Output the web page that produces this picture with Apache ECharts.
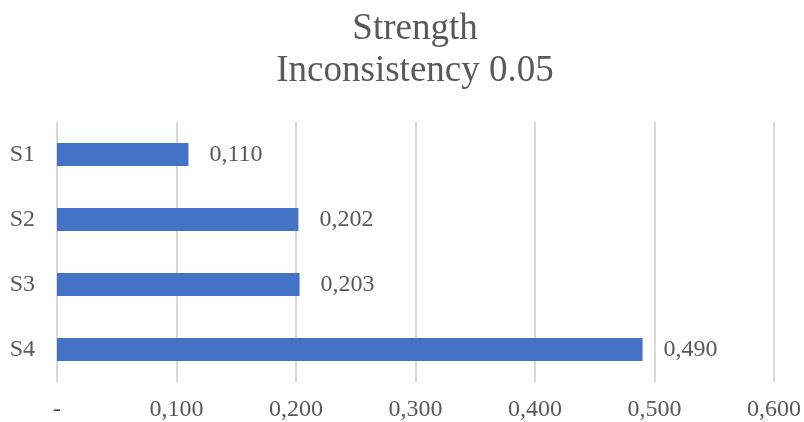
<!DOCTYPE html>
<html>
<head>
<meta charset="utf-8">
<script src="https://cdn.jsdelivr.net/npm/echarts@6/dist/echarts.min.js"></script>
<style>
  html, body { margin: 0; padding: 0; background: #fff; }
  #chart { width: 804px; height: 422px; }
</style>
</head>
<body>
<div id="chart"></div>
<script>
// Strength per scenario
const categories = ['S1', 'S2', 'S3', 'S4'];
const strength = [0.110, 0.202, 0.203, 0.490];
const titleLines = ['Strength', 'Inconsistency 0.05'];

const FONT = '"Liberation Serif", "Times New Roman", serif';
const TEXT = '#595959';

// Decimal comma with three places; zero shown as a dash
const fmt = v => (v === 0 ? '-' : v.toFixed(3).replace('.', ','));

const chart = echarts.init(document.getElementById('chart'), null, { renderer: 'canvas' });
chart.setOption({
  animation: false,
  backgroundColor: '#ffffff',
  title: {
    text: titleLines.join('\n'),
    left: 410,
    top: 3,
    textAlign: 'center',
    textStyle: {
      fontFamily: FONT,
      fontWeight: 'normal',
      fontSize: 37,
      lineHeight: 42,
      color: TEXT
    }
  },
  grid: { left: 57, right: 28, top: 122, bottom: 40, containLabel: false },
  xAxis: {
    type: 'value',
    min: 0,
    max: 0.6,
    interval: 0.1,
    axisLine: { show: false },
    axisTick: { show: false },
    splitLine: { show: true, lineStyle: { color: '#d9d9d9', width: 2 } },
    axisLabel: {
      formatter: fmt,
      margin: 16,
      fontFamily: FONT,
      fontSize: 24,
      color: TEXT
    }
  },
  yAxis: {
    type: 'category',
    data: categories,
    inverse: true,
    axisLine: { show: false },
    axisTick: { show: false },
    axisLabel: {
      margin: 22,
      fontFamily: FONT,
      fontSize: 24,
      color: TEXT
    }
  },
  series: [{
    type: 'bar',
    data: strength,
    barWidth: 23,
    itemStyle: { color: '#4472C4' },
    label: {
      show: true,
      position: 'right',
      distance: 21,
      formatter: p => fmt(p.value),
      fontFamily: FONT,
      fontSize: 24,
      color: TEXT
    }
  }]
});
</script>
</body>
</html>
